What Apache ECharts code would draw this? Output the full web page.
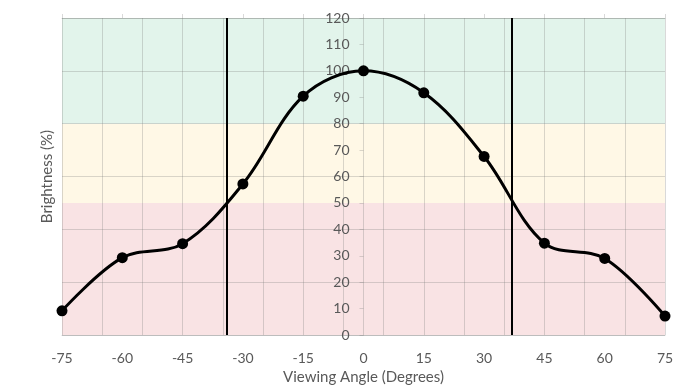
<!DOCTYPE html>
<html>
<head>
<meta charset="utf-8">
<script src="https://cdn.jsdelivr.net/npm/echarts@6/dist/echarts.min.js"></script>
<style>html,body{margin:0;padding:0;background:#fff}#c{width:690px;height:390px}</style>
</head>
<body>
<div id="c"></div>
<script>
var angles = [-75, -60, -45, -30, -15, 0, 15, 30, 45, 60, 75];
var brightness = [9.2, 29.3, 34.6, 57.2, 90.4, 100, 91.7, 67.6, 34.8, 29.0, 7.2];
var cutoffAngles = [-34, 37];
var zoneEdges = [0, 50, 80, 120];
var zoneColors = ['#f9e3e4', '#fff8e6', '#e2f4eb'];

var textColor = '#595959';
var gridColor = 'rgba(120,120,120,0.28)';
var font = 'Lato, "Open Sans", sans-serif';

var chart = echarts.init(document.getElementById('c'), null, {renderer: 'canvas'});

var bandData = [];
for (var i = 0; i < zoneColors.length; i++) {
  bandData.push([{yAxis: zoneEdges[i], itemStyle: {color: zoneColors[i]}}, {yAxis: zoneEdges[i + 1]}]);
}

var gridLeft = 62, gridRight = 25, chartWidth = 690;
var plotWidth = chartWidth - gridLeft - gridRight;
// place the labelled y axis at x = 0 of the angle axis
var yAxisShift = -plotWidth * (0 - (-75)) / (75 - (-75));

var option = {
  animation: false,
  grid: {left: gridLeft, right: gridRight, top: 18, bottom: 54, containLabel: false},
  xAxis: [
    {
      type: 'value', min: -75, max: 75, interval: 15, position: 'bottom',
      axisLine: {show: true, onZero: false, lineStyle: {color: gridColor}},
      axisTick: {show: false},
      splitLine: {show: false},
      axisLabel: {color: textColor, fontSize: 14, fontFamily: font, margin: 16},
      name: 'Viewing Angle (Degrees)', nameLocation: 'middle', nameGap: 33,
      nameTextStyle: {color: textColor, fontSize: 15, fontFamily: font}
    },
    {
      type: 'value', min: 0, max: 150, interval: 10, position: 'top',
      axisLine: {show: false, onZero: false},
      axisTick: {show: false}, axisLabel: {show: false},
      splitLine: {show: true, lineStyle: {color: gridColor, width: 1}}
    },
    {
      type: 'value', min: -75, max: 75, interval: 15, position: 'top',
      axisLine: {show: true, onZero: false, lineStyle: {color: gridColor}},
      axisTick: {show: true, length: 4, lineStyle: {color: gridColor}},
      axisLabel: {show: false}, splitLine: {show: false}
    }
  ],
  yAxis: [
    {
      type: 'value', min: 0, max: 120, interval: 10, position: 'left',
      offset: yAxisShift,
      axisLine: {show: true, onZero: false, lineStyle: {color: gridColor}},
      axisTick: {show: true, length: 4, lineStyle: {color: gridColor}},
      splitLine: {show: false},
      axisLabel: {color: textColor, fontSize: 14, fontFamily: font, margin: 14}
    },
    {
      type: 'value', min: 0, max: 120, interval: 20, position: 'left',
      axisLine: {show: false, onZero: false},
      axisTick: {show: false}, axisLabel: {show: false},
      splitLine: {show: true, lineStyle: {color: gridColor, width: 1}},
      name: 'Brightness (%)', nameLocation: 'middle', nameGap: 7, nameRotate: 90,
      nameTextStyle: {color: textColor, fontSize: 15, fontFamily: font}
    }
  ],
  series: [
    {
      type: 'line',
      xAxisIndex: 0, yAxisIndex: 0,
      data: angles.map(function (a, i) { return [a, brightness[i]]; }),
      smooth: 0.35,
      symbol: 'circle', symbolSize: 11,
      itemStyle: {color: '#000'},
      lineStyle: {color: '#000', width: 3},
      z: 3,
      markArea: {silent: true, z: -1, data: bandData},
      markLine: {
        silent: true, symbol: 'none', label: {show: false},
        lineStyle: {color: '#000', width: 2, type: 'solid'},
        data: cutoffAngles.map(function (v) { return {xAxis: v}; })
      }
    }
  ]
};
chart.setOption(option);
</script>
</body>
</html>
